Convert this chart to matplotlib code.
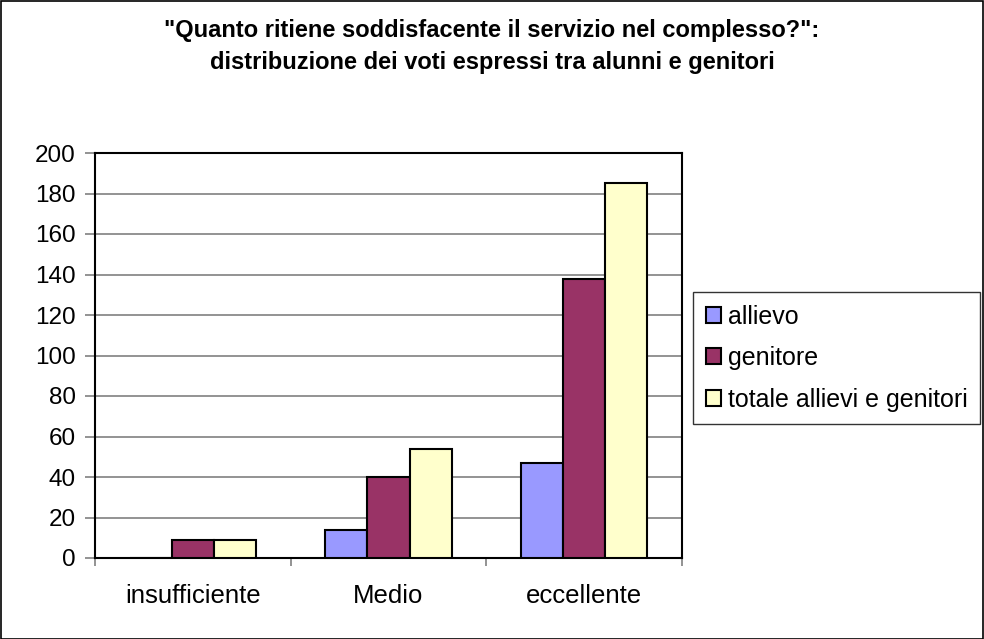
import matplotlib
matplotlib.use("Agg")
import matplotlib.pyplot as plt
import numpy as np
from matplotlib.patches import Rectangle

categories = ["insufficiente", "Medio", "eccellente"]
allievo = [0, 14, 47]
genitore = [9, 40, 138]
totale = [9, 54, 185]
series_names = ["allievo", "genitore", "totale allievi e genitori"]
colors = ["#9999FF", "#993366", "#FFFFCC"]
yticks = list(range(0, 201, 20))

plt.rcParams['font.family'] = ['Liberation Sans', 'DejaVu Sans']

fig = plt.figure(figsize=(9.84, 6.39), dpi=100)
W, H = 984, 639
ax = fig.add_axes([95 / W, 1 - 558 / H, (682 - 95) / W, (558 - 153) / H])

x = np.arange(len(categories))
bw = 0.215
for i, (vals, name, c) in enumerate(zip([allievo, genitore, totale], series_names, colors)):
    ax.bar(x + (i - 1) * bw, vals, bw, color=c, edgecolor="black", linewidth=1.5,
           label=name, zorder=3)

ax.set_xlim(-0.5, len(categories) - 0.5)
ax.set_ylim(0, 200)
ax.set_yticks(yticks)
ax.set_yticklabels([str(t) for t in yticks], fontsize=17.5)
ax.yaxis.grid(True, color="#808080", linewidth=1.2, zorder=0)
ax.set_xticks(x)
ax.set_xticklabels(categories, fontsize=18.5)
ax.tick_params(axis='x', length=0, pad=19)
ax.set_xticks(np.arange(-0.5, len(categories)), minor=True)
ax.tick_params(axis='x', which='minor', length=6, width=1.2, color="#808080")
ax.tick_params(axis='y', length=7, width=1.2, pad=7, color="#808080")
for s in ax.spines.values():
    s.set_color("black")
    s.set_linewidth(1.5)

fig.text(0.5, 1 - 31 / H, '"Quanto ritiene soddisfacente il servizio nel complesso?":',
         ha='center', va='center', fontsize=17, fontweight='bold')
fig.text(0.5, 1 - 62 / H, 'distribuzione dei voti espressi tra alunni e genitori',
         ha='center', va='center', fontsize=17, fontweight='bold')

leg = ax.legend(loc='upper left', bbox_to_anchor=((693 - 95) / (682 - 95), 1 - (292 - 153) / (558 - 153)),
                bbox_transform=ax.transAxes, fontsize=18, frameon=True, fancybox=False,
                handlelength=0.6, handleheight=0.6, handletextpad=0.3, borderpad=0.5,
                labelspacing=0.7, borderaxespad=0)
leg.get_frame().set_edgecolor("black")
leg.get_frame().set_linewidth(1.0)

fig.patches.append(Rectangle((0.5 / W, 0.5 / H), 1 - 1.5 / W, 1 - 1.5 / H, transform=fig.transFigure,
                             fill=False, edgecolor="black", linewidth=1.2))

fig.savefig("out.png", dpi=100)
